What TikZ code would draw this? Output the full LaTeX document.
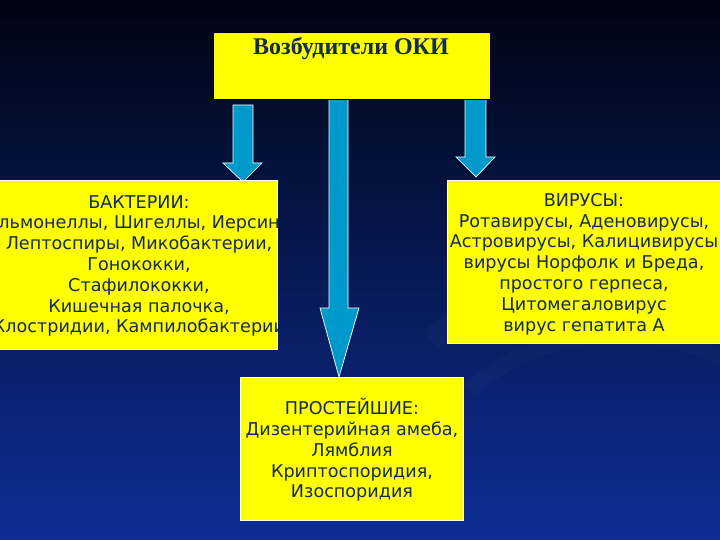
\documentclass[tikz,border=0pt]{standalone}
\usepackage{fontspec}
\setmainfont{DejaVu Sans}
\newfontfamily\titlefont{Liberation Serif}
\definecolor{bgtop}{RGB}{0,4,18}
\definecolor{bgmid}{RGB}{8,34,105}
\definecolor{bgbot}{RGB}{14,46,150}
\definecolor{ylw}{RGB}{255,255,0}
\definecolor{txt}{RGB}{20,42,90}
\definecolor{arr}{RGB}{0,153,204}
\tikzset{
  ybox/.style={fill=ylw, draw=white, line width=0.6pt},
  btext/.style={text=txt, align=center, font=\fontsize{17.6}{20.8}\selectfont, inner sep=0pt},
  bigarrow/.style={fill=arr, draw=white, line width=0.7pt, line join=miter}
}
\begin{document}
\begin{tikzpicture}[x=1pt,y=-1pt]
\path[use as bounding box] (0,0) rectangle (720,540);
\shade[top color=bgtop, middle color=bgmid, bottom color=bgbot] (0,0) rectangle (720,540);
% faint swirl
\begin{scope}
\clip (0,0) rectangle (720,540);
\draw[white, opacity=0.025, line width=22pt] (430,340) .. controls (520,260) and (700,260) .. (760,310);
\draw[white, opacity=0.02, line width=16pt] (470,390) .. controls (560,310) and (690,330) .. (740,370);
\end{scope}
% arrows
\draw[bigarrow] (233,105) -- (253,105) -- (253,163) -- (262,163) -- (243,182) -- (223,163) -- (233,163) -- cycle;
\draw[bigarrow] (329,95) -- (348,95) -- (348,308) -- (359,308) -- (339,377) -- (320,308) -- (329,308) -- cycle;
\draw[bigarrow] (465,95) -- (486,95) -- (486,157) -- (495,157) -- (476,177) -- (456,157) -- (465,157) -- cycle;
% top box
\draw[fill=ylw, draw=black, line width=0.6pt] (213,32) rectangle (490,99);
\node[text=txt, font=\titlefont\bfseries\fontsize{24}{28}\selectfont, inner sep=0pt] (title) at (351,49) {Возбудители ОКИ};
% left box
\draw[ybox] (-5,180) rectangle (277,349);
\begin{scope}
\clip (-5,180) rectangle (277,349);
\node[btext] (bact) at (139,266) {БАКТЕРИИ:\\Сальмонеллы, Шигеллы, Иерсинии\\Лептоспиры, Микобактерии,\\Гонококки,\\Стафилококки,\\Кишечная палочка,\\Клостридии, Кампилобактерии};
\end{scope}
% right box
\draw[ybox] (447,180) rectangle (722,343);
\begin{scope}
\clip (447,180) rectangle (722,343);
\node[btext] (vir) at (584,264) {ВИРУСЫ:\\Ротавирусы, Аденовирусы,\\Астровирусы, Калицивирусы\\вирусы Норфолк и Бреда,\\простого герпеса,\\Цитомегаловирус\\вирус гепатита А};
\end{scope}
% bottom box
\draw[ybox] (240,377) rectangle (463,520);
\node[btext] (prot) at (352,450) {ПРОСТЕЙШИЕ:\\Дизентерийная амеба,\\Лямблия\\Криптоспоридия,\\Изоспоридия};
\end{tikzpicture}
\end{document}
